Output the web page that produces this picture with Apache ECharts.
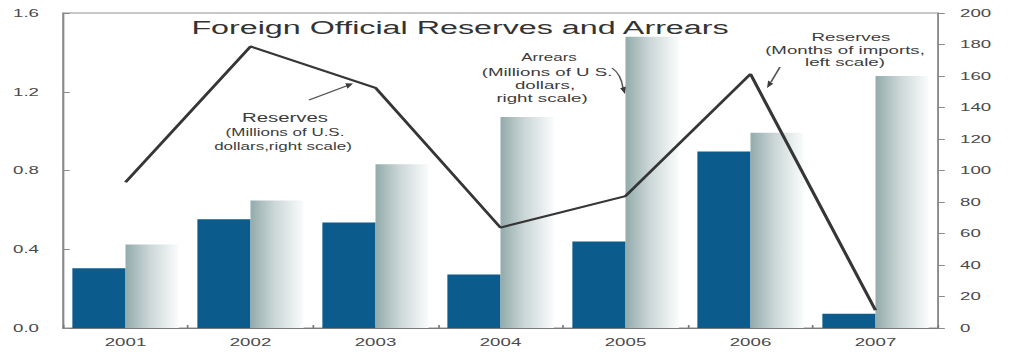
<!DOCTYPE html>
<html>
<head>
<meta charset="utf-8">
<script src="https://cdn.jsdelivr.net/npm/echarts@6/dist/echarts.min.js"></script>
<style>
  html, body { margin: 0; padding: 0; background: #ffffff; overflow: hidden; }
  #wrap { width: 1019px; height: 355px; overflow: hidden; }
  /* the chart is laid out narrow and stretched sideways, giving the wide lettering */
  #chart { width: 600px; height: 355px; transform-origin: 0 0; }
</style>
</head>
<body>
<div id="wrap"><div id="chart"></div></div>
<script>
// Years on the horizontal axis
var years = ['2001', '2002', '2003', '2004', '2005', '2006', '2007'];
// Reserves, millions of U.S. dollars (right scale)
var reservesUSD = [38, 69, 67, 34, 55, 112, 9];
// Arrears, millions of U.S. dollars (right scale)
var arrearsUSD = [53, 81, 104, 134, 185, 124, 160];
// Reserves, months of imports (left scale)
var reservesMonths = [0.74, 1.43, 1.22, 0.51, 0.67, 1.29, 0.09];
// Axis ranges
var leftAxis = { min: 0, max: 1.6, step: 0.4 };
var rightAxis = { min: 0, max: 200, step: 20 };

var FONT = 'Liberation Sans';
var S = 1019 / 600;                 // horizontal stretch of the whole drawing
var el = document.getElementById('chart');
el.style.transform = 'scaleX(' + S + ')';
function px(x) { return x / S; }    // page x -> chart x

var chart = echarts.init(el, null, { renderer: 'svg' });

function note(text, cx, cy, size) {
  return {
    type: 'text', x: px(cx), y: cy, z: 20,
    style: {
      text: text, fontFamily: FONT, fontSize: size, fill: '#3c3c3c',
      textAlign: 'center', textVerticalAlign: 'middle'
    }
  };
}
function arrowHead(tx, ty, fx, fy) {
  // small filled triangle at (tx,ty), pointing away from (fx,fy); page coords
  var dx = tx - fx, dy = ty - fy, L = Math.sqrt(dx * dx + dy * dy);
  var ux = dx / L, uy = dy / L, len = 7, w = 3;
  var bx = tx - ux * len, by = ty - uy * len;
  return {
    type: 'polygon', z: 20,
    shape: { points: [
      [px(tx), ty],
      [px(bx - uy * w), by + ux * w],
      [px(bx + uy * w), by - ux * w]
    ] },
    style: { fill: '#3c3c3c' }
  };
}

chart.setOption({
  animation: false,
  backgroundColor: '#ffffff',
  grid: {
    left: px(63), right: px(81), top: 13, bottom: 27,
    show: true, borderColor: '#8f8f8f', borderWidth: 1
  },
  xAxis: {
    type: 'category',
    data: years,
    boundaryGap: true,
    axisLine: { lineStyle: { color: '#7a7a7a', width: 1 } },
    axisTick: { show: true, inside: true, length: 3, lineStyle: { color: '#7a7a7a' } },
    axisLabel: { color: '#4a4a4a', fontFamily: FONT, fontSize: 11, margin: 9 }
  },
  yAxis: [
    {
      type: 'value', position: 'left',
      min: leftAxis.min, max: leftAxis.max, interval: leftAxis.step,
      axisLine: { show: true, lineStyle: { color: '#8a8a8a', width: 0.8 } },
      axisTick: { show: true, inside: true, length: 4, lineStyle: { color: '#8a8a8a' } },
      splitLine: { show: false },
      axisLabel: {
        color: '#4a4a4a', fontFamily: FONT, fontSize: 11, margin: px(24),
        formatter: function (v) { return v.toFixed(1); }
      }
    },
    {
      type: 'value', position: 'right',
      min: rightAxis.min, max: rightAxis.max, interval: rightAxis.step,
      axisLine: { show: true, lineStyle: { color: '#8a8a8a', width: 0.8 } },
      axisTick: { show: true, length: 4, lineStyle: { color: '#8a8a8a' } },
      splitLine: { show: false },
      axisLabel: { color: '#4a4a4a', fontFamily: FONT, fontSize: 11, margin: px(22) }
    }
  ],
  series: [
    {
      name: 'Reserves (Millions of U.S. dollars)',
      type: 'bar', yAxisIndex: 1,
      data: reservesUSD,
      barGap: '0%', barCategoryGap: '15%',
      itemStyle: { color: '#0b5b8c' }
    },
    {
      name: 'Arrears (Millions of U.S. dollars)',
      type: 'bar', yAxisIndex: 1,
      data: arrearsUSD,
      barGap: '0%', barCategoryGap: '15%',
      itemStyle: {
        color: new echarts.graphic.LinearGradient(0, 0, 1, 0, [
          { offset: 0, color: '#93abab' },
          { offset: 0.45, color: '#cbd6d6' },
          { offset: 1, color: '#fafcfc' }
        ])
      }
    },
    {
      name: 'Reserves (Months of imports)',
      type: 'line', yAxisIndex: 0,
      data: reservesMonths,
      showSymbol: false, symbol: 'none',
      lineStyle: { color: '#363636', width: 2 },
      z: 5
    }
  ],
  graphic: [
    {
      type: 'text', x: px(460), y: 28, z: 20,
      style: {
        text: 'Foreign Official Reserves and Arrears',
        fontFamily: FONT, fontSize: 19, fill: '#333333',
        textAlign: 'center', textVerticalAlign: 'middle'
      }
    },
    // Reserves (dollars) note and pointer
    note('Reserves', 285, 118, 12),
    note('(Millions of U.S.', 285, 132, 10),
    note('dollars,right scale)', 283, 146, 10),
    { type: 'line', z: 20, shape: { x1: px(309), y1: 100, x2: px(349), y2: 85 }, style: { stroke: '#555', lineWidth: 1 } },
    arrowHead(353, 83.5, 309, 100),
    // Arrears note and pointer
    note('Arrears', 549, 57, 10),
    note('(Millions of U S.', 547, 72, 11),
    note('dollars,', 545, 85, 11),
    note('right scale)', 542, 98, 11),
    { type: 'bezierCurve', z: 20, shape: { x1: px(612), y1: 68, cpx1: px(621), cpy1: 74, x2: px(623), y2: 88 }, style: { stroke: '#555', lineWidth: 1, fill: null } },
    arrowHead(625, 94, 622, 84),
    // Reserves (months) note and pointer
    note('Reserves', 851, 37, 11),
    note('(Months of imports,', 845, 50, 11),
    note('left scale)', 845, 62, 11),
    { type: 'line', z: 20, shape: { x1: px(780), y1: 67, x2: px(771), y2: 82 }, style: { stroke: '#555', lineWidth: 1 } },
    arrowHead(767, 88, 780, 67)
  ]
});
</script>
</body>
</html>
